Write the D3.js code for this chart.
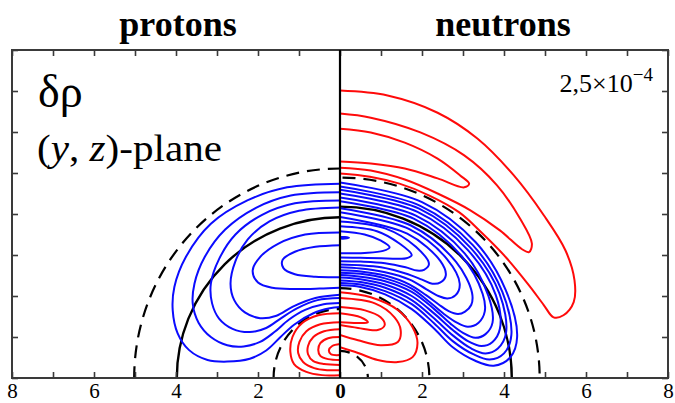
<!DOCTYPE html>
<html>
<head>
<meta charset="utf-8">
<script src="https://cdn.jsdelivr.net/npm/d3@7"></script>
<style>
  html, body { margin: 0; padding: 0; background: #fff; }
  svg { display: block; }
  text { font-family: "Liberation Serif", "Times New Roman", serif; fill: #000; }
</style>
</head>
<body>
<svg id="chart" width="675" height="403"></svg>
<script>
// Axis ticks (fm). Protons are drawn on the left half, neutrons on the right half.
const xTickValues = [-8, -7, -6, -5, -4, -3, -2, -1, 0, 1, 2, 3, 4, 5, 6, 7, 8];
const xTickLabels = ["8", "", "6", "", "4", "", "2", "", "0", "", "2", "", "4", "", "6", "", "8"];
const yTickValues = [0, 1, 2, 3, 4, 5, 6, 7, 8];

const panelTitles = ["protons", "neutrons"];
const contourStep = ["2,5×10", "−4"];

// Reference radii [y semi-axis, z semi-axis] in fm
const protonSolidRadius = [3.98, 3.92];
const protonDashedRadii = [[5.02, 5.11], [1.62, 1.68]];
const neutronSolidRadius = [4.19, 4.18];
const neutronDashedRadii = [[4.87, 4.89], [2.18, 2.19], [0.68, 0.66]];

// Contour lines of δρ, points as [|y|, z] in fm
// protons, δρ < 0
const protonNegative = [
  [[0,4.74],[1.29,4.65],[2.26,4.33],[3.15,3.76],[3.76,2.95],[4.04,2.22],[4.08,1.65],[3.96,1.09],[3.68,0.68],[3.23,0.44],[2.75,0.40],[2.2,0.47],[1.8,0.67],[1.45,1.0],[1.12,1.3],[0.65,1.58],[0.25,1.7],[0,1.73]],
  [[0,4.53],[1.2,4.45],[2.05,4.15],[2.8,3.62],[3.3,2.95],[3.55,2.3],[3.59,1.8],[3.45,1.35],[3.15,1.0],[2.75,0.8],[2.35,0.77],[1.95,0.88],[1.6,1.12],[1.25,1.42],[0.85,1.66],[0.4,1.8],[0,1.83]],
  [[0,4.33],[1.1,4.26],[1.9,3.98],[2.55,3.5],[2.95,2.9],[3.15,2.3],[3.12,1.82],[2.95,1.45],[2.62,1.2],[2.2,1.12],[1.8,1.22],[1.45,1.45],[1.05,1.7],[0.55,1.9],[0,1.95]],
  [[0,4.16],[1.0,4.08],[1.72,3.82],[2.25,3.38],[2.55,2.85],[2.67,2.3],[2.58,1.9],[2.32,1.6],[1.95,1.46],[1.55,1.52],[1.15,1.74],[0.6,1.95],[0,2.03]],
  [[0,3.55],[0.85,3.5],[1.5,3.28],[1.95,2.95],[2.13,2.62],[2.0,2.33],[1.65,2.2],[1.1,2.17],[0.5,2.18],[0,2.2]],
  [[0,3.24],[0.6,3.2],[1.1,3.08],[1.4,2.88],[1.38,2.68],[1.1,2.53],[0.6,2.47],[0,2.46]]
];
// protons, δρ > 0
const protonPositive = [
  [[0,1.58],[0.53,1.53],[0.92,1.34],[1.16,1.0],[1.21,0.63],[1.12,0.34],[0.82,0.15],[0.44,0.07],[0,0.07]],
  [[0,1.36],[0.48,1.31],[0.82,1.14],[0.99,0.88],[1.02,0.61],[0.9,0.39],[0.63,0.24],[0.29,0.19],[0,0.19]],
  [[0,1.19],[0.39,1.14],[0.65,1.0],[0.78,0.78],[0.78,0.58],[0.65,0.41],[0.39,0.34],[0,0.32]],
  [[0,1.0],[0.29,0.97],[0.48,0.85],[0.53,0.68],[0.48,0.54],[0.29,0.46],[0,0.44]],
  [[0,0.83],[0.19,0.78],[0.27,0.68],[0.22,0.58],[0,0.56]]
];
// neutrons, δρ < 0
const neutronNegative = [
  [[0,4.77],[2.0,4.29],[3.31,3.31],[4.04,2.15],[4.32,1.0],[4.15,0.5],[3.75,0.3],[3.3,0.42],[2.75,0.75],[2.3,1.2],[1.75,1.68],[1.1,2.04],[0.5,2.22],[0,2.26]],
  [[0,4.67],[1.96,4.20],[3.24,3.24],[3.96,2.10],[4.18,1.05],[4.0,0.6],[3.65,0.45],[3.25,0.58],[2.75,0.9],[2.3,1.33],[1.75,1.8],[1.1,2.12],[0.5,2.28],[0,2.32]],
  [[0,4.59],[1.93,4.13],[3.18,3.18],[3.89,2.06],[4.05,1.1],[3.85,0.72],[3.55,0.6],[3.2,0.72],[2.75,1.04],[2.3,1.45],[1.75,1.9],[1.1,2.2],[0.5,2.34],[0,2.38]],
  [[0,4.50],[1.89,4.05],[3.12,3.12],[3.80,2.02],[3.9,1.2],[3.72,0.88],[3.45,0.78],[3.12,0.9],[2.75,1.17],[2.3,1.57],[1.75,2.0],[1.1,2.28],[0.5,2.41],[0,2.45]],
  [[0,4.40],[1.85,3.96],[3.04,3.04],[3.62,2.0],[3.72,1.35],[3.55,1.07],[3.3,0.98],[3.0,1.1],[2.7,1.32],[2.3,1.68],[1.75,2.1],[1.1,2.36],[0.5,2.47],[0,2.51]],
  [[0,4.31],[1.81,3.88],[2.97,2.97],[3.48,2.05],[3.53,1.62],[3.38,1.35],[3.12,1.25],[2.85,1.35],[2.55,1.55],[2.2,1.84],[1.75,2.18],[1.1,2.43],[0.5,2.54],[0,2.57]],
  [[0,4.14],[1.73,3.72],[2.83,2.83],[3.22,2.08],[3.2,1.78],[3.05,1.62],[2.88,1.56],[2.65,1.63],[2.4,1.8],[2.1,2.02],[1.7,2.28],[1.1,2.5],[0.5,2.6],[0,2.63]],
  [[0,4.04],[1.69,3.63],[2.61,2.90],[2.92,2.3],[2.82,2.02],[2.62,1.94],[2.4,2.0],[2.1,2.17],[1.7,2.4],[1.1,2.58],[0.5,2.67],[0,2.70]],
  [[0,3.93],[1.64,3.52],[2.45,2.85],[2.58,2.5],[2.45,2.33],[2.25,2.3],[2.0,2.4],[1.6,2.55],[1.0,2.7],[0.5,2.75],[0,2.77]],
  [[0,3.82],[1.1,3.65],[1.85,3.2],[2.17,2.78],[2.05,2.64],[1.88,2.62],[1.6,2.7],[1.1,2.8],[0.5,2.84],[0,2.85]],
  [[0,3.70],[0.9,3.58],[1.45,3.28],[1.75,3.0],[1.62,2.92],[1.4,2.91],[1.0,2.92],[0.5,2.93],[0,2.94]],
  [[0,3.58],[0.6,3.5],[1.0,3.35],[1.21,3.19],[1.05,3.1],[0.6,3.05],[0,3.04]],
  [[0,3.44],[0.12,3.44],[0.22,3.42],[0.12,3.40],[0,3.40]]
];
// neutrons, δρ > 0
const neutronPositive = [
  [[0,7.01],[1.16,6.89],[2.38,6.47],[3.35,5.84],[4.24,4.94],[4.97,3.97],[5.50,3.11],[5.72,2.38],[5.70,1.85],[5.45,1.53],[5.21,1.48],[4.97,1.78],[4.61,2.26],[4.05,2.94],[3.47,3.53],[2.91,4.04],[2.18,4.45],[1.45,4.74],[0.73,4.91],[0,4.99]],
  [[0,6.45],[0.75,6.35],[1.96,5.99],[3.03,5.43],[3.83,4.70],[4.39,3.89],[4.68,3.28],[4.61,3.07],[4.44,3.14],[3.90,3.60],[3.18,4.09],[2.38,4.50],[1.58,4.84],[0.75,5.06],[0,5.13]],
  [[0,6.08],[0.75,5.99],[1.58,5.74],[2.38,5.35],[2.93,4.94],[3.15,4.74],[3.03,4.65],[2.38,4.87],[1.58,5.11],[0.75,5.23],[0,5.28]],
  [[0,2.09],[0.75,1.97],[1.41,1.66],[1.77,1.24],[1.89,0.85],[1.77,0.51],[1.41,0.39],[0.92,0.44],[0.44,0.61],[0,0.75]],
  [[0,1.95],[0.85,1.82],[1.33,1.48],[1.48,1.17],[1.41,0.88],[0.99,0.80],[0.44,0.92],[0,1.05]],
  [[0,1.73],[0.61,1.65],[0.99,1.48],[1.09,1.29],[0.92,1.17],[0.44,1.22],[0,1.29]],
  [[0,1.58],[0.51,1.48],[0.68,1.36],[0.44,1.34],[0,1.36]]
];

const svg = d3.select("#chart");
const x = d3.scaleLinear().domain([-8, 8]).range([12, 668]);
const y = d3.scaleLinear().domain([0, 8]).range([378, 50]);

const BLUE = "#0b0bff", RED = "#ff0a0a";

const defs = svg.append("defs");
defs.append("clipPath").attr("id", "clip-p").append("rect")
  .attr("x", x(-8)).attr("y", y(8)).attr("width", x(0) - x(-8)).attr("height", y(0) - y(8));
defs.append("clipPath").attr("id", "clip-n").append("rect")
  .attr("x", x(0)).attr("y", y(8)).attr("width", x(8) - x(0)).attr("height", y(0) - y(8));

// contour lines
function drawContours(g, lines, side, color) {
  const line = d3.line()
    .x(d => x(side * d[0]))
    .y(d => y(d[1]))
    .curve(d3.curveCatmullRom.alpha(0.5));
  g.selectAll(null).data(lines).join("path")
    .attr("d", line)
    .attr("fill", "none")
    .attr("stroke", color)
    .attr("stroke-width", 2)
    .attr("stroke-linejoin", "round");
}

function drawRadii(g, solid, dashed) {
  const cx = x(0), cy = y(0);
  g.append("ellipse")
    .attr("cx", cx).attr("cy", cy)
    .attr("rx", x(solid[0]) - x(0)).attr("ry", y(0) - y(solid[1]))
    .attr("fill", "none").attr("stroke", "#000").attr("stroke-width", 2.4);
  g.selectAll(null).data(dashed).join("ellipse")
    .attr("cx", cx).attr("cy", cy)
    .attr("rx", d => x(d[0]) - x(0)).attr("ry", d => y(0) - y(d[1]))
    .attr("fill", "none").attr("stroke", "#000").attr("stroke-width", 2.2)
    .attr("stroke-dasharray", "13,8");
}

const gp = svg.append("g").attr("clip-path", "url(#clip-p)");
drawRadii(gp, protonSolidRadius, protonDashedRadii);
drawContours(gp, protonNegative, -1, BLUE);
drawContours(gp, protonPositive, -1, RED);

const gn = svg.append("g").attr("clip-path", "url(#clip-n)");
drawRadii(gn, neutronSolidRadius, neutronDashedRadii);
drawContours(gn, neutronNegative, 1, BLUE);
drawContours(gn, neutronPositive, 1, RED);

// frame and ticks
const axisColor = "#3a3a3a";
const axisBottomG = svg.append("g").attr("transform", `translate(0,${y(0)})`)
  .call(d3.axisBottom(x).tickValues(xTickValues).tickSize(-6).tickPadding(5)
    .tickFormat((d, i) => xTickLabels[i]));
const axisTopG = svg.append("g").attr("transform", `translate(0,${y(8)})`)
  .call(d3.axisTop(x).tickValues(xTickValues).tickSize(-6).tickFormat(""));
const axisLeftG = svg.append("g").attr("transform", `translate(${x(-8)},0)`)
  .call(d3.axisLeft(y).tickValues(yTickValues).tickSize(-6).tickFormat(""));
const axisRightG = svg.append("g").attr("transform", `translate(${x(8)},0)`)
  .call(d3.axisRight(y).tickValues(yTickValues).tickSize(-6).tickFormat(""));
[axisBottomG, axisTopG, axisLeftG, axisRightG].forEach(g => {
  g.select(".domain").remove();
  g.selectAll(".tick line").attr("stroke", axisColor).attr("stroke-width", 1.6);
});
axisBottomG.selectAll(".tick text")
  .attr("font-family", '"Liberation Serif", "Times New Roman", serif')
  .attr("font-size", 21).attr("fill", "#000")
  .attr("font-weight", d => d === 0 ? "bold" : null);

svg.append("rect")
  .attr("x", x(-8)).attr("y", y(8))
  .attr("width", x(8) - x(-8)).attr("height", y(0) - y(8))
  .attr("fill", "none").attr("stroke", axisColor).attr("stroke-width", 2);

svg.append("line")
  .attr("x1", x(0)).attr("x2", x(0)).attr("y1", y(0)).attr("y2", y(8))
  .attr("stroke", "#000").attr("stroke-width", 2.2);

// titles
svg.selectAll(".title").data(panelTitles).join("text")
  .attr("class", "title")
  .attr("x", (d, i) => i === 0 ? x(-4) + 2 : x(4) - 1)
  .attr("y", 36)
  .attr("text-anchor", "middle")
  .attr("font-size", 36).attr("font-weight", "bold")
  .text(d => d);

svg.append("text").attr("x", 38).attr("y", 107)
  .attr("font-size", 46).text("δρ");

const plane = svg.append("text").attr("x", 37).attr("y", 161).attr("font-size", 37)
  .attr("textLength", 185).attr("lengthAdjust", "spacingAndGlyphs");
plane.append("tspan").text("(");
plane.append("tspan").attr("font-style", "italic").text("y");
plane.append("tspan").text(", ");
plane.append("tspan").attr("font-style", "italic").text("z");
plane.append("tspan").text(")-plane");

const step = svg.append("text").attr("x", 653).attr("y", 92)
  .attr("text-anchor", "end").attr("font-size", 26);
step.append("tspan").text(contourStep[0]);
step.append("tspan").attr("font-size", 19).attr("dy", -11).text(contourStep[1]);
</script>
</body>
</html>
